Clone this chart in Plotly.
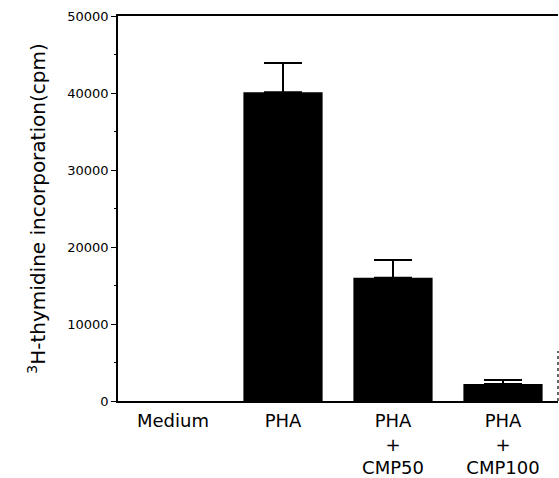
import plotly.graph_objects as go

categories = ["Medium", "PHA", "PHA<br>+<br>CMP50", "PHA<br>+<br>CMP100"]
values = [0, 40100, 16000, 2200]
errors = [0, 3800, 2300, 530]
y_ticks = [0, 10000, 20000, 30000, 40000, 50000]

fig = go.Figure()
fig.add_trace(go.Bar(
    x=categories, y=values,
    width=0.72,
    marker=dict(color="black", line=dict(width=0)),
))
# error bars only where an error is shown
err_x = [c for c, e in zip(categories, errors) if e > 0]
err_y = [v for v, e in zip(values, errors) if e > 0]
err_up = [e for e in errors if e > 0]
fig.add_trace(go.Scatter(
    x=err_x, y=err_y, mode="markers",
    marker=dict(size=0.1, color="black", opacity=0),
    error_y=dict(type="data", symmetric=False, array=err_up,
                 arrayminus=[0] * len(err_up),
                 color="black", thickness=2, width=19),
    hoverinfo="skip",
))

fig.update_layout(
    width=559, height=478,
    margin=dict(l=118, r=1, t=16, b=77),
    paper_bgcolor="white", plot_bgcolor="white",
    showlegend=False,
    font=dict(family="DejaVu Sans", color="black"),
    xaxis=dict(
        type="category", range=[-0.5, 3.5], automargin=False,
        showline=True, linecolor="black", linewidth=1.5, mirror=True,
        ticks="", showgrid=False, ticklabelstandoff=3,
        tickfont=dict(size=18, family="DejaVu Sans"),
    ),
    yaxis=dict(
        range=[0, 50000], automargin=False,
        tickvals=y_ticks,
        ticktext=[str(v) for v in y_ticks],
        showline=True, linecolor="black", linewidth=1.5,
        ticks="outside", ticklen=5, tickwidth=1.2, tickcolor="black",
        minor=dict(dtick=5000, ticks="outside", ticklen=2, tickcolor="black"),
        showgrid=False, zeroline=False,
        tickfont=dict(size=13, family="DejaVu Sans"),
        title=dict(text="<sup>3</sup>H-thymidine incorporation(cpm)",
                   font=dict(size=20, family="DejaVu Sans"), standoff=16),
    ),
)

fig.add_shape(type="line", xref="paper", yref="paper",
              x0=1, x1=1, y0=0, y1=0.13,
              line=dict(color="black", width=1.2, dash="dot"))

fig.write_html("out.html")
